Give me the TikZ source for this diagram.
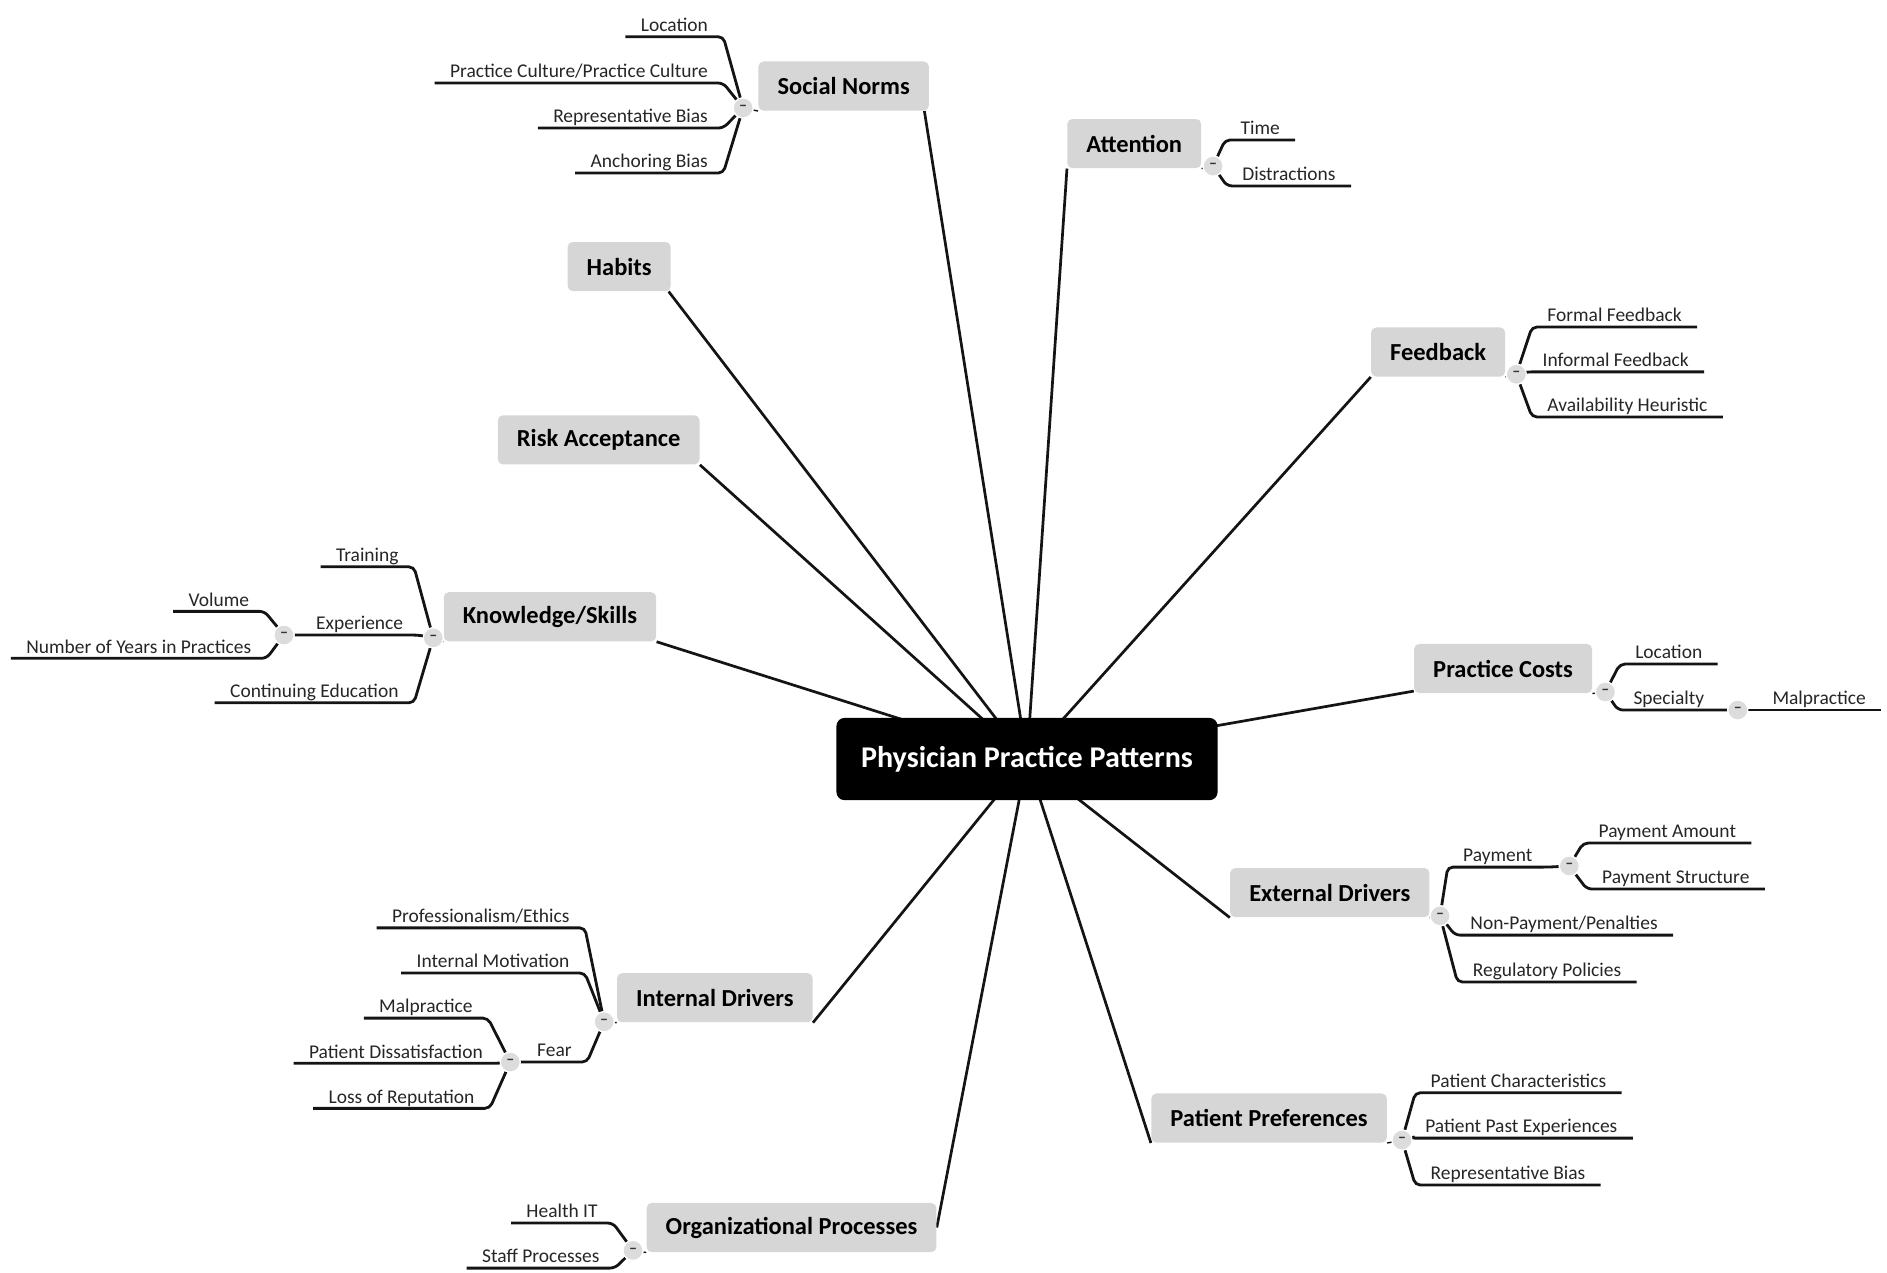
\documentclass[tikz,border=0pt]{standalone}
\usepackage{fontspec}
\setmainfont{Carlito}
\usetikzlibrary{calc,backgrounds}
\definecolor{boxgray}{RGB}{214,214,214}
\definecolor{ink}{RGB}{20,20,20}
\definecolor{circgray}{RGB}{220,220,220}
\begin{document}
\begin{tikzpicture}[x=0.6pt,y=-0.6pt,
  topic/.style={fill=boxgray, rounded corners=2.5pt, font=\fontsize{12.2}{14}\selectfont\bfseries, inner xsep=9.5pt, minimum height=24.5pt, text=black},
  root/.style={fill=black, rounded corners=4pt, font=\fontsize{15}{18}\selectfont\bfseries, text=white, minimum width=190pt, minimum height=41pt},
  lch/.style={font=\fontsize{9.7}{11}\selectfont, inner xsep=7.5pt, inner ysep=2.4pt, text depth=0pt, anchor=south east, text=black!85},
  rch/.style={lch, anchor=south west},
  tog/.style={circle, fill=circgray, draw=white, line width=0.6pt, minimum size=10pt, inner sep=0pt, font=\fontsize{8}{8}\selectfont\bfseries, text=black!80},
  conn/.style={draw=ink, line width=1.4pt, rounded corners=2.5pt},
  mainline/.style={draw=ink, line width=1.35pt},
  stub/.style={draw=ink, line width=0.7pt}
]
\useasboundingbox (0,0) rectangle (1568,1057);

% root and main topics
\node[root] (root) at (853.4,630.7) {Physician Practice Patterns};
\node[topic] (sn) at (701,71.5) {Social Norms};
\node[topic] (att) at (942.5,119.3) {Attention};
\node[topic] (hab) at (514.5,221.5) {Habits};
\node[topic] (fb) at (1195,292.5) {Feedback};
\node[topic] (risk) at (497.5,365.5) {Risk Acceptance};
\node[topic] (ks) at (457,512.5) {Knowledge/Skills};
\node[topic] (pc) at (1249,555.5) {Practice Costs};
\node[topic] (ed) at (1105,741.7) {External Drivers};
\node[topic] (id) at (594,829) {Internal Drivers};
\node[topic] (pp) at (1054.5,929) {Patient Preferences};
\node[topic] (op) at (657.7,1020) {Organizational Processes};

% toggles
\node[tog] (snt) at (617.5,89.7) {\textendash};
\node[tog] (attt) at (1008,138) {\textendash};
\node[tog] (fbt) at (1260,311) {\textendash};
\node[tog] (pct) at (1334,575) {\textendash};
\node[tog] (spect) at (1444,590) {\textendash};
\node[tog] (edt) at (1196.6,761) {\textendash};
\node[tog] (payt) at (1304,719.6) {\textendash};
\node[tog] (ppt) at (1165,947.3) {\textendash};
\node[tog] (opt) at (526,1039) {\textendash};
\node[tog] (idt) at (502,849) {\textendash};
\node[tog] (feart) at (424,882.5) {\textendash};
\node[tog] (kst) at (360,530) {\textendash};
\node[tog] (expt) at (236,527.7) {\textendash};

% Social Norms children
\node[lch] (sn1) at (601,30.5) {Location};
\node[lch] (sn2) at (601,69) {Practice Culture/Practice Culture};
\node[lch] (sn3) at (601,106.4) {Representative Bias};
\node[lch] (sn4) at (601,143.8) {Anchoring Bias};
% Attention
\node[rch] (at1) at (1018,116.3) {Time};
\node[rch] (at2) at (1019.5,154.5) {Distractions};
% Feedback
\node[rch] (fb1) at (1273,271.7) {Formal Feedback};
\node[rch] (fb2) at (1269,309) {Informal Feedback};
\node[rch] (fb3) at (1273,346.5) {Availability Heuristic};
% Practice Costs
\node[rch] (pc1) at (1346,551.8) {Location};
\node[rch] (pc2) at (1344.5,590) {Specialty};
\node[rch] (pc3) at (1460,590) {Malpractice};
% External Drivers
\node[rch] (ed1) at (1203,720.5) {Payment};
\node[rch] (ed2) at (1209,777) {Non-Payment/Penalties};
\node[rch] (ed3) at (1211,816) {Regulatory Policies};
\node[rch] (ed1a) at (1315.5,700.5) {Payment Amount};
\node[rch] (ed1b) at (1318.5,738.7) {Payment Structure};
% Patient Preferences
\node[rch] (pp1) at (1176,908) {Patient Characteristics};
\node[rch] (pp2) at (1171.5,945.7) {Patient Past Experiences};
\node[rch] (pp3) at (1176,984.7) {Representative Bias};
% Organizational Processes
\node[lch] (op1) at (509.4,1016.3) {Health IT};
\node[lch] (op2) at (511,1053.7) {Staff Processes};
% Internal Drivers
\node[lch] (id1) at (486,771) {Professionalism/Ethics};
\node[lch] (id2) at (486,808.5) {Internal Motivation};
\node[lch] (id3) at (487.8,882.5) {Fear};
\node[lch] (id3a) at (405.5,846) {Malpractice};
\node[lch] (id3b) at (414,883.5) {Patient Dissatisfaction};
\node[lch] (id3c) at (407,921) {Loss of Reputation};
% Knowledge/Skills
\node[lch] (ks1) at (344,471) {Training};
\node[lch] (ks2) at (347.8,527.7) {Experience};
\node[lch] (ks3) at (344,584) {Continuing Education};
\node[lch] (ks2a) at (219.8,508) {Volume};
\node[lch] (ks2b) at (221.6,547) {Number of Years in Practices};

\begin{scope}[on background layer]
% main connectors
\draw[mainline] ($(sn.south east)+(-4,0)$) -- (root.center);
\draw[mainline] (att.south west) -- (root.center);
\draw[mainline] ($(hab.south east)+(-2,0)$) -- (root.center);
\draw[mainline] (fb.south west) -- (root.center);
\draw[mainline] (risk.south east) -- (root.center);
\draw[mainline] (ks.south east) -- (root.center);
\draw[mainline] ($(pc.south west)+(0,-2)$) -- (root.center);
\draw[mainline] (ed.south west) -- (root.center);
\draw[mainline] (pp.south west) -- (root.center);
\draw[mainline] (op.east) -- (root.center);
\draw[mainline] (id.south east) -- (root.center);
% stubs to toggles
\draw[stub] (snt) -- (sn.south west);
\draw[stub] (attt) -- (att.south east);
\draw[stub] (fbt) -- (fb.south east);
\draw[stub] (pct) -- (pc.south east);
\draw[stub] (edt) -- (ed.south east);
\draw[stub] (ppt) -- (pp.south east);
\draw[stub] (opt) -- (op.south west);
\draw[stub] (idt) -- (id.south west);
\draw[stub] (kst) -- (ks.south west);
% left children
\foreach \t/\c in {snt/sn1,snt/sn2,snt/sn3,snt/sn4,opt/op1,opt/op2,idt/id1,idt/id2,feart/id3a,feart/id3b,feart/id3c,kst/ks1,kst/ks3,expt/ks2a,expt/ks2b}
  \draw[conn] (\t) -- (\c.south east) -- (\c.south west);
\draw[conn] (idt) -- (id3.south east) -- (id3.south west) -- (feart);
\draw[conn] (kst) -- (ks2.south east) -- (ks2.south west) -- (expt);
% right children
\foreach \t/\c in {attt/at1,attt/at2,fbt/fb1,fbt/fb2,fbt/fb3,pct/pc1,spect/pc3,edt/ed2,edt/ed3,payt/ed1a,payt/ed1b,ppt/pp1,ppt/pp2,ppt/pp3}
  \draw[conn] (\t) -- (\c.south west) -- (\c.south east);
\draw[conn] (pct) -- (pc2.south west) -- (pc2.south east) -- (spect);
\draw[conn] (edt) -- (ed1.south west) -- (ed1.south east) -- (payt);
\end{scope}
\end{tikzpicture}
\end{document}
